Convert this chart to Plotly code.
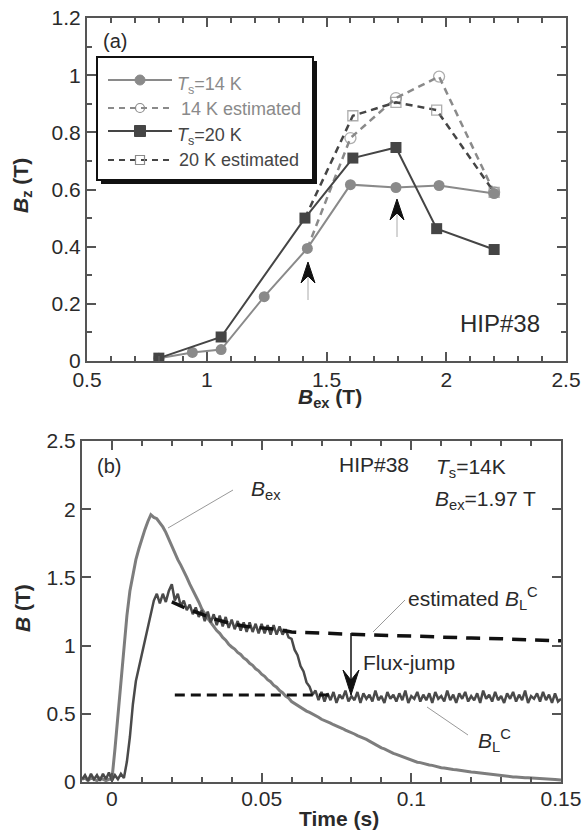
import plotly.graph_objects as go

W, H = 583, 837
FONT = "Liberation Sans, Arial, Helvetica, sans-serif"

# ---------------- Panel (a) data ----------------
bex_14 = [0.80, 0.94, 1.06, 1.24, 1.42, 1.60, 1.79, 1.97, 2.20]
bz_14 = [0.01, 0.03, 0.04, 0.225, 0.394, 0.617, 0.607, 0.614, 0.586]
bex_14_est = [1.42, 1.60, 1.79, 1.97, 2.20]
bz_14_est = [0.394, 0.78, 0.92, 0.995, 0.59]
bex_20 = [0.80, 1.06, 1.41, 1.61, 1.79, 1.96, 2.20]
bz_20 = [0.01, 0.084, 0.50, 0.71, 0.747, 0.463, 0.39]
bex_20_est = [1.41, 1.61, 1.79, 1.96, 2.20]
bz_20_est = [0.50, 0.858, 0.905, 0.878, 0.59]

a_xtick_vals = [0.5, 1.0, 1.5, 2.0, 2.5]
a_xtick_text = ["0.5", "1", "1.5", "2", "2.5"]
a_ytick_vals = [0, 0.2, 0.4, 0.6, 0.8, 1.0, 1.2]
a_ytick_text = ["0", "0.2", "0.4", "0.6", "0.8", "1", "1.2"]

# ---------------- Panel (b) data ----------------
t_start = -0.010
t_step = 0.001
b_ex = [
    0.02, 0.03, 0.01, 0.03, 0.02, 0.01, 0.03, 0.02, 0.01, 0.02,
    0.02, 0.24, 0.49, 0.74, 0.99, 1.22, 1.40, 1.53, 1.63, 1.71,
    1.79, 1.85, 1.91, 1.96, 1.94, 1.93, 1.90, 1.87, 1.83, 1.78,
    1.72, 1.67, 1.63, 1.59, 1.55, 1.50, 1.45, 1.41, 1.36, 1.32,
    1.27, 1.23, 1.20, 1.17, 1.14, 1.11, 1.09, 1.06, 1.04, 1.01,
    0.99, 0.975, 0.95, 0.935, 0.91, 0.895, 0.87, 0.855, 0.83, 0.815,
    0.79, 0.775, 0.75, 0.735, 0.71, 0.695, 0.67, 0.655, 0.63, 0.615,
    0.59, 0.575, 0.56, 0.545, 0.53, 0.52, 0.51, 0.50, 0.485, 0.475,
    0.46, 0.452, 0.44, 0.432, 0.42, 0.412, 0.40, 0.392, 0.38, 0.372,
    0.36, 0.352, 0.34, 0.332, 0.32, 0.312, 0.30, 0.286, 0.275, 0.262,
    0.25, 0.243, 0.23, 0.222, 0.21, 0.203, 0.195, 0.186, 0.175, 0.168,
    0.16, 0.156, 0.145, 0.142, 0.135, 0.131, 0.125, 0.122, 0.115, 0.112,
    0.105, 0.102, 0.097, 0.095, 0.091, 0.089, 0.085, 0.083, 0.079, 0.077,
    0.073, 0.071, 0.068, 0.067, 0.063, 0.062, 0.058, 0.056, 0.053, 0.051,
    0.048, 0.046, 0.042, 0.041, 0.037, 0.037, 0.034, 0.034, 0.031, 0.031,
    0.029, 0.028, 0.026, 0.025, 0.023, 0.023, 0.020, 0.020, 0.018, 0.017,
    0.015,
]
b_L = [
    0.02, 0.05, 0.01, 0.06, 0.02, 0.05, 0.01, 0.06, 0.02, 0.07,
    0.01, 0.05, 0.02, 0.06, 0.03, 0.15, 0.33, 0.57, 0.74, 0.84,
    0.95, 1.05, 1.15, 1.24, 1.33, 1.38, 1.31, 1.38, 1.32, 1.40,
    1.45, 1.33, 1.38, 1.29, 1.33, 1.26, 1.30, 1.23, 1.28, 1.21,
    1.26, 1.18, 1.25, 1.17, 1.23, 1.15, 1.22, 1.14, 1.21, 1.13,
    1.19, 1.12, 1.18, 1.11, 1.17, 1.10, 1.17, 1.10, 1.16, 1.09,
    1.16, 1.09, 1.15, 1.08, 1.15, 1.08, 1.14, 1.08, 1.12, 1.06,
    1.05, 0.97, 0.93, 0.85, 0.81, 0.73, 0.70, 0.64, 0.67, 0.60,
    0.66,
    0.59, 0.65, 0.60, 0.66, 0.58, 0.64, 0.61, 0.67, 0.59, 0.63,
    0.60, 0.66, 0.58, 0.65, 0.61, 0.64, 0.59, 0.67, 0.60, 0.63,
    0.58, 0.66, 0.61, 0.64, 0.59, 0.65, 0.60, 0.67, 0.58, 0.63,
    0.61, 0.66, 0.59, 0.64, 0.60, 0.65, 0.58, 0.66, 0.61, 0.63,
    0.59, 0.67, 0.60, 0.64, 0.58, 0.65, 0.61, 0.66, 0.59, 0.63,
    0.60, 0.65, 0.58, 0.67, 0.61, 0.64, 0.59, 0.66, 0.60, 0.63,
    0.58, 0.65, 0.61, 0.66, 0.59, 0.64, 0.60, 0.67, 0.58, 0.63,
    0.61, 0.65, 0.59, 0.66, 0.60, 0.64, 0.58, 0.65, 0.59, 0.61,
]
time = [round(t_start + i * t_step, 4) for i in range(len(b_L))]

est_time = [0.020, 0.025, 0.030, 0.035, 0.040, 0.045, 0.050, 0.055, 0.060,
            0.070, 0.080, 0.090, 0.100, 0.110, 0.120, 0.130, 0.140, 0.150]
est_BLC = [1.32, 1.27, 1.23, 1.19, 1.16, 1.14, 1.13, 1.12, 1.10,
           1.09, 1.08, 1.075, 1.07, 1.06, 1.055, 1.05, 1.045, 1.035]
jump_time = [0.021, 0.073]
jump_BLC = [0.637, 0.637]

b_xtick_vals = [0, 0.05, 0.1, 0.15]
b_xtick_text = ["0", "0.05", "0.1", "0.15"]
b_ytick_vals = [0, 0.5, 1.0, 1.5, 2.0, 2.5]
b_ytick_text = ["0", "0.5", "1", "1.5", "2", "2.5"]

GRAY = "#8a8a8a"
DARK = "#454545"
AXC = "#555555"
TXT = "#2a2a2a"


def PX(x):
    return x / W


def PY(y):
    return 1 - y / H


fig = go.Figure()

# panel (a) traces
fig.add_trace(go.Scatter(x=bex_14_est, y=bz_14_est, mode="lines+markers", xaxis="x", yaxis="y",
                         line=dict(color=GRAY, width=2.5, dash="7px,5px"),
                         marker=dict(symbol="circle-open", size=[0, 11, 11, 11, 11], color=GRAY,
                                     line=dict(width=1.3, color=GRAY)), showlegend=False))
fig.add_trace(go.Scatter(x=bex_20_est, y=bz_20_est, mode="lines+markers", xaxis="x", yaxis="y",
                         line=dict(color=DARK, width=2.5, dash="7px,5px"),
                         marker=dict(symbol="square-open", size=[0, 10, 10, 10, 10], color=GRAY,
                                     line=dict(width=1.3, color=GRAY)), showlegend=False))
fig.add_trace(go.Scatter(x=bex_14, y=bz_14, mode="lines+markers", xaxis="x", yaxis="y",
                         line=dict(color=GRAY, width=2),
                         marker=dict(symbol="circle", size=11, color=GRAY), showlegend=False))
fig.add_trace(go.Scatter(x=bex_20, y=bz_20, mode="lines+markers", xaxis="x", yaxis="y",
                         line=dict(color=DARK, width=2),
                         marker=dict(symbol="square", size=11, color=DARK), showlegend=False))

# panel (b) traces
fig.add_trace(go.Scatter(x=time, y=b_ex, mode="lines", xaxis="x2", yaxis="y2",
                         line=dict(color="#7d7d7d", width=3), showlegend=False))
fig.add_trace(go.Scatter(x=time, y=b_L, mode="lines", xaxis="x2", yaxis="y2",
                         line=dict(color="#4a4a4a", width=2.5), showlegend=False))
fig.add_trace(go.Scatter(x=est_time, y=est_BLC, mode="lines", xaxis="x2", yaxis="y2",
                         line=dict(color="#111111", width=3.5, dash="14px,9px"), showlegend=False))
fig.add_trace(go.Scatter(x=jump_time, y=jump_BLC, mode="lines", xaxis="x2", yaxis="y2",
                         line=dict(color="#111111", width=3, dash="10px,6px"), showlegend=False))


def axis(domain, rng, vals, text, anchor, minor_dtick=None, minor_t0=0, standoff=0):
    d = dict(domain=domain, range=rng, anchor=anchor, tickmode="array", tickvals=vals, ticktext=text,
             showline=True, linecolor=AXC, linewidth=2, mirror="allticks", ticks="inside",
             ticklen=9, tickwidth=1.6, tickcolor=AXC, showgrid=False, zeroline=False,
             automargin=False, ticklabelstandoff=standoff,
             tickfont=dict(family=FONT, size=21, color=TXT))
    if minor_dtick:
        d["minor"] = dict(tickmode="linear", tick0=minor_t0, dtick=minor_dtick, ticks="inside",
                          ticklen=5, tickwidth=1.6, tickcolor=AXC, showgrid=False)
    return d


fig.update_layout(
    template="none",
    width=W, height=H, margin=dict(l=0, r=0, t=0, b=0, autoexpand=False),
    paper_bgcolor="white", plot_bgcolor="white",
    font=dict(family=FONT, color=TXT),
    xaxis=axis([87 / W, 566 / W], [0.5, 2.5], a_xtick_vals, a_xtick_text, "y", 0.1, 0.5, -1),
    yaxis=axis([1 - 361 / H, 1 - 18 / H], [0, 1.2], a_ytick_vals, a_ytick_text, "x", 0.1, 0),
    xaxis2=axis([82 / W, 561 / W], [-0.01, 0.15], b_xtick_vals, b_xtick_text, "y2", 0.01, 0, -3),
    yaxis2=axis([1 - 782 / H, 1 - 441 / H], [0, 2.5], b_ytick_vals, b_ytick_text, "x2"),
)

shapes = []
annots = []


def line_px(x0, y0, x1, y1, color, width, dash=None):
    ln = dict(color=color, width=width)
    if dash:
        ln["dash"] = dash
    shapes.append(dict(type="line", xref="paper", yref="paper", x0=PX(x0), y0=PY(y0),
                       x1=PX(x1), y1=PY(y1), line=ln))


def arrowhead_px(xt, yt, half_w, h, notch, color="#111111"):
    pts = [(xt, yt), (xt - half_w, yt + h), (xt, yt + notch), (xt + half_w, yt + h)]
    path = "M " + " L ".join(f"{PX(a):.5f},{PY(b):.5f}" for a, b in pts) + " Z"
    shapes.append(dict(type="path", xref="paper", yref="paper", path=path,
                       fillcolor=color, line=dict(color=color, width=1)))


def ann(x, y, text, size=21, xanchor="left", yanchor="middle", color=TXT, angle=0):
    annots.append(dict(x=PX(x), y=PY(y), xref="paper", yref="paper", text=text, showarrow=False,
                       xanchor=xanchor, yanchor=yanchor, textangle=angle,
                       font=dict(family=FONT, size=size, color=color)))


# ---- legend of panel (a) ----
shapes.append(dict(type="rect", xref="paper", yref="paper", x0=PX(101), y0=PY(184), x1=PX(317), y1=PY(61),
                   fillcolor="#111111", line=dict(width=0)))
shapes.append(dict(type="rect", xref="paper", yref="paper", x0=PX(97), y0=PY(180), x1=PX(313), y1=PY(57),
                   fillcolor="white", line=dict(color="#111111", width=2)))
rows = [(80, GRAY, None), (108, GRAY, "6px,5px"), (131, DARK, None), (160, DARK, "6px,5px")]
for yy, col, dsh in rows:
    line_px(108, yy, 172, yy, col, 2 if dsh is None else 2.2, dsh)
# markers
shapes.append(dict(type="circle", xref="paper", yref="paper", x0=PX(135), x1=PX(145), y0=PY(85), y1=PY(75),
                   fillcolor=GRAY, line=dict(color=GRAY, width=1)))
shapes.append(dict(type="circle", xref="paper", yref="paper", x0=PX(135.5), x1=PX(144.5), y0=PY(112.5), y1=PY(103.5),
                   fillcolor="rgba(0,0,0,0)", line=dict(color=GRAY, width=1.2)))
shapes.append(dict(type="rect", xref="paper", yref="paper", x0=PX(134.5), x1=PX(145.5), y0=PY(136.5), y1=PY(125.5),
                   fillcolor=DARK, line=dict(color=DARK, width=1)))
shapes.append(dict(type="rect", xref="paper", yref="paper", x0=PX(135.5), x1=PX(144.5), y0=PY(164.5), y1=PY(155.5),
                   fillcolor="rgba(0,0,0,0)", line=dict(color=GRAY, width=1.2)))
ann(175, 85, "<i>T</i><sub>s</sub>=14 K", 18, color=GRAY)
ann(179, 109, "14 K estimated", 18, color=GRAY)
ann(175, 136, "<i>T</i><sub>s</sub>=20 K", 18, color=DARK)
ann(177, 160, "20 K estimated", 18, color=DARK)

# ---- panel (a) arrows ----
for xt, yt in [(308, 262), (397, 199)]:
    line_px(xt, yt + 14, xt, yt + 38, "#aaaaaa", 1)
    arrowhead_px(xt, yt, 7, 21, 14)

ann(115, 41, "(a)", 20, xanchor="center")
ann(500, 323, "HIP#38", 24, xanchor="center")
ann(330, 398, "<b><i>B</i></b><b><sub>ex</sub> (T)</b>", 21, xanchor="center")
ann(22, 186, "<b><i>B</i></b><b><sub>z</sub> (T)</b>", 21, xanchor="center", angle=-90)

# ---- panel (b) annotations ----
ann(109, 466, "(b)", 20, xanchor="center")
ann(249, 490, "<i>B</i><sub>ex</sub>", 21)
line_px(233, 490, 168, 528, "#999999", 1)
ann(374, 464, "HIP#38", 21, xanchor="center")
ann(434, 468, "<i>T</i><sub>s</sub>=14K", 21)
ann(433, 500, "<i>B</i><sub>ex</sub>=1.97 T", 21)
ann(406, 598, "estimated <i>B</i><sub>L</sub><sup>C</sup>", 21)
line_px(405, 600, 373, 632, "#999999", 1)
ann(361, 662, "Flux-jump", 21)
line_px(351, 633, 351, 682, "#111111", 1.5)
arrowhead_px(351, 695, 8, -25, -15)
ann(476, 740, "<i>B</i><sub>L</sub><sup>C</sup>", 21)
line_px(468, 735, 427, 707, "#999999", 1)
ann(339, 818, "<b>Time (s)</b>", 21, xanchor="center")
ann(22, 608, "<b><i>B</i> (T)</b>", 21, xanchor="center", angle=-90)

fig.update_layout(shapes=shapes, annotations=annots)
fig.write_html("out.html", config={"displayModeBar": False},
               post_script="document.body.style.margin='0';document.body.style.padding='0';"
                           "document.documentElement.style.overflow='hidden';")
